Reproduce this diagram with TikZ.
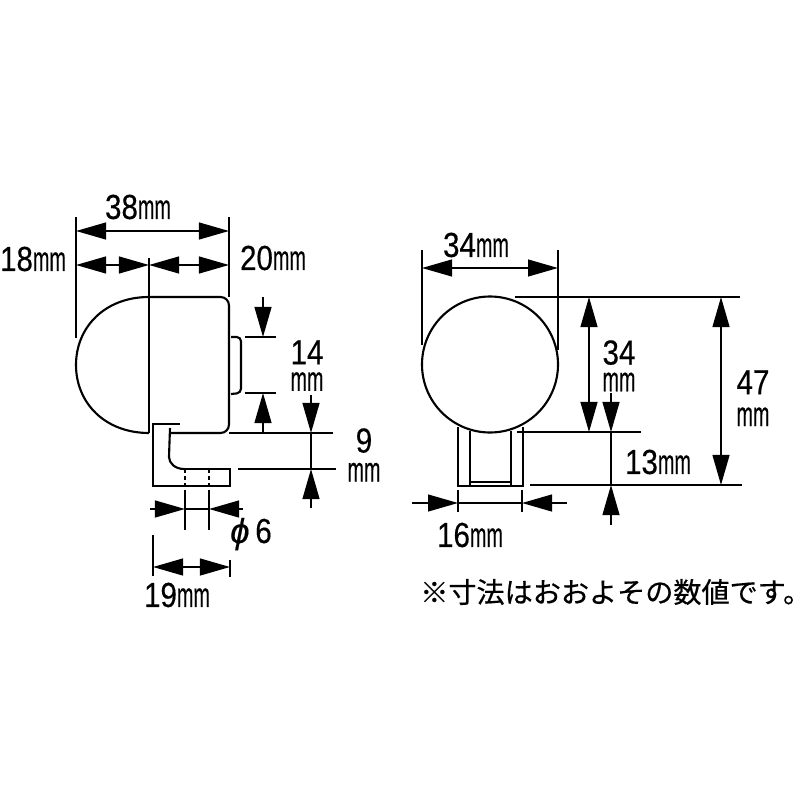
\documentclass[tikz,border=0pt]{standalone}
\usepackage{graphicx}
\usepackage{fontspec}
\setmainfont[FakeBold=0.4]{Liberation Sans}
\newfontfamily\cjkfont[FakeBold=0.5]{Noto Sans CJK JP}
\usetikzlibrary{arrows.meta}
\newcommand{\mmunit}{\scalebox{0.57}[1]{mm}}
\newcommand{\digits}[1]{\scalebox{0.85}[1]{#1}}
\tikzset{
  dimline/.style={line width=1.3pt, {Triangle[length=0.75cm,width=0.42cm]}-{Triangle[length=0.75cm,width=0.42cm]}},
  dimhead/.style={line width=1.3pt, -{Triangle[length=0.75cm,width=0.42cm]}},
  extline/.style={line width=1.3pt},
  outline/.style={line width=1.5pt},
  thinpart/.style={line width=1.1pt},
  dimtext/.style={inner sep=0pt, align=center, font=\fontsize{24.7}{19}\selectfont}
}
\begin{document}
\begin{tikzpicture}[x=0.025cm, y=-0.025cm]

\useasboundingbox (0, 0) rectangle (800, 800);

\draw[outline] (149, 297) .. controls (105, 297) and (76, 327) .. (76, 365) .. controls (76, 403) and (105, 433) .. (149, 433);

\draw[outline, rounded corners=6pt] (149, 297) -- (229, 297) -- (229, 433) -- (170, 433);

\draw[outline] (149, 292) -- (149, 433);

\draw[outline, rounded corners=3pt] (231, 337) -- (241, 337) -- (241, 393) -- (231, 394);

\draw[outline] (180, 424) -- (153, 424) -- (153, 486) -- (230, 486) -- (230, 469) -- (184, 469);

\draw[outline] (170, 428) -- (169, 457) .. controls (169, 463) and (175, 469) .. (184, 469);

\draw[thinpart, densely dashed] (185, 469) -- (185, 486);

\draw[thinpart, densely dashed] (209, 469) -- (209, 486);

\draw[extline] (76, 217) -- (76, 338);

\draw[extline] (229, 217) -- (229, 297);

\draw[extline] (149, 258) -- (149, 292);

\draw[dimline] (76, 231) -- (229, 231);

\draw[dimline] (76, 265) -- (149, 265);

\draw[dimline] (149, 265) -- (229, 265);

\draw[extline] (245, 337) -- (276, 337);

\draw[extline] (245, 393) -- (276, 393);

\draw[dimhead] (263, 297) -- (263, 337);

\draw[dimhead] (263, 433) -- (263, 393);

\draw[extline] (229, 433) -- (333, 433);

\draw[extline] (238, 469) -- (336, 469);

\draw[extline] (311, 433) -- (311, 469);

\draw[dimhead] (311, 395) -- (311, 433);

\draw[dimhead] (311, 508) -- (311, 469);

\draw[extline] (185, 490) -- (185, 530);

\draw[extline] (209, 490) -- (209, 530);

\draw[extline] (185, 509) -- (209, 509);

\draw[dimhead] (150, 509) -- (185, 509);

\draw[dimhead] (243, 509) -- (209, 509);

\draw[extline] (153, 535) -- (153, 576);

\draw[extline] (230, 560) -- (230, 577);

\draw[dimline] (153, 567) -- (230, 567);

\draw[outline] (490, 364.5) circle (68);

\draw[outline] (458, 427) -- (458, 486) -- (523, 486) -- (523, 427);

\draw[outline] (470, 431) -- (470, 486);

\draw[outline] (511, 431) -- (511, 486);

\draw[thinpart] (470, 482) -- (511, 482);

\draw[extline] (422, 250) -- (422, 345);

\draw[extline] (558, 250) -- (558, 350);

\draw[dimline] (422, 268) -- (558, 268);

\draw[extline] (515, 297) -- (740, 297);

\draw[extline] (517, 432) -- (641, 432);

\draw[extline] (530, 485) -- (742, 485);

\draw[dimline] (589, 297) -- (589, 432);

\draw[dimline] (721, 297) -- (721, 485);

\draw[extline] (611, 432) -- (611, 485);

\draw[dimhead] (611, 393) -- (611, 432);

\draw[dimhead] (611, 525) -- (611, 485);

\draw[extline] (458, 490) -- (458, 512);

\draw[extline] (522, 490) -- (522, 512);

\draw[extline] (458, 503) -- (522, 503);

\draw[dimhead] (412, 503) -- (458, 503);

\draw[dimhead] (567, 503) -- (522, 503);

\node[dimtext] (label38) at (138, 207) {\digits{38}\mmunit};

\node[dimtext] (label18) at (33, 259) {\digits{18}\mmunit};

\node[dimtext] (label20) at (273, 258) {\digits{20}\mmunit};

\node[dimtext, anchor=north] (label14) at (307, 340) {\digits{14}\\\mmunit};

\node[dimtext, anchor=north] (label9) at (364, 428) {\digits{9}\\[1.6pt]\mmunit};

\node[dimtext] (labelphi) at (251, 534) {\textit{ϕ}\,\digits{6}};

\node[dimtext] (label19) at (177, 595) {\digits{19}\mmunit};

\node[dimtext] (label34a) at (476, 245) {\digits{34}\mmunit};

\node[dimtext, anchor=north] (label34b) at (619, 340) {\digits{34}\\\mmunit};

\node[dimtext, anchor=north] (label47) at (753, 370) {\digits{47}\\[3.7pt]\mmunit};

\node[dimtext] (label13) at (658, 462) {\digits{13}\mmunit};

\node[dimtext] (label16) at (470, 535) {\digits{16}\mmunit};

\node[inner sep=0pt, anchor=west, font=\cjkfont\fontsize{20}{22}\selectfont] (note) at (420, 592) {※寸法はおおよその数値です。\hspace{-11pt}};

\end{tikzpicture}
\end{document}
